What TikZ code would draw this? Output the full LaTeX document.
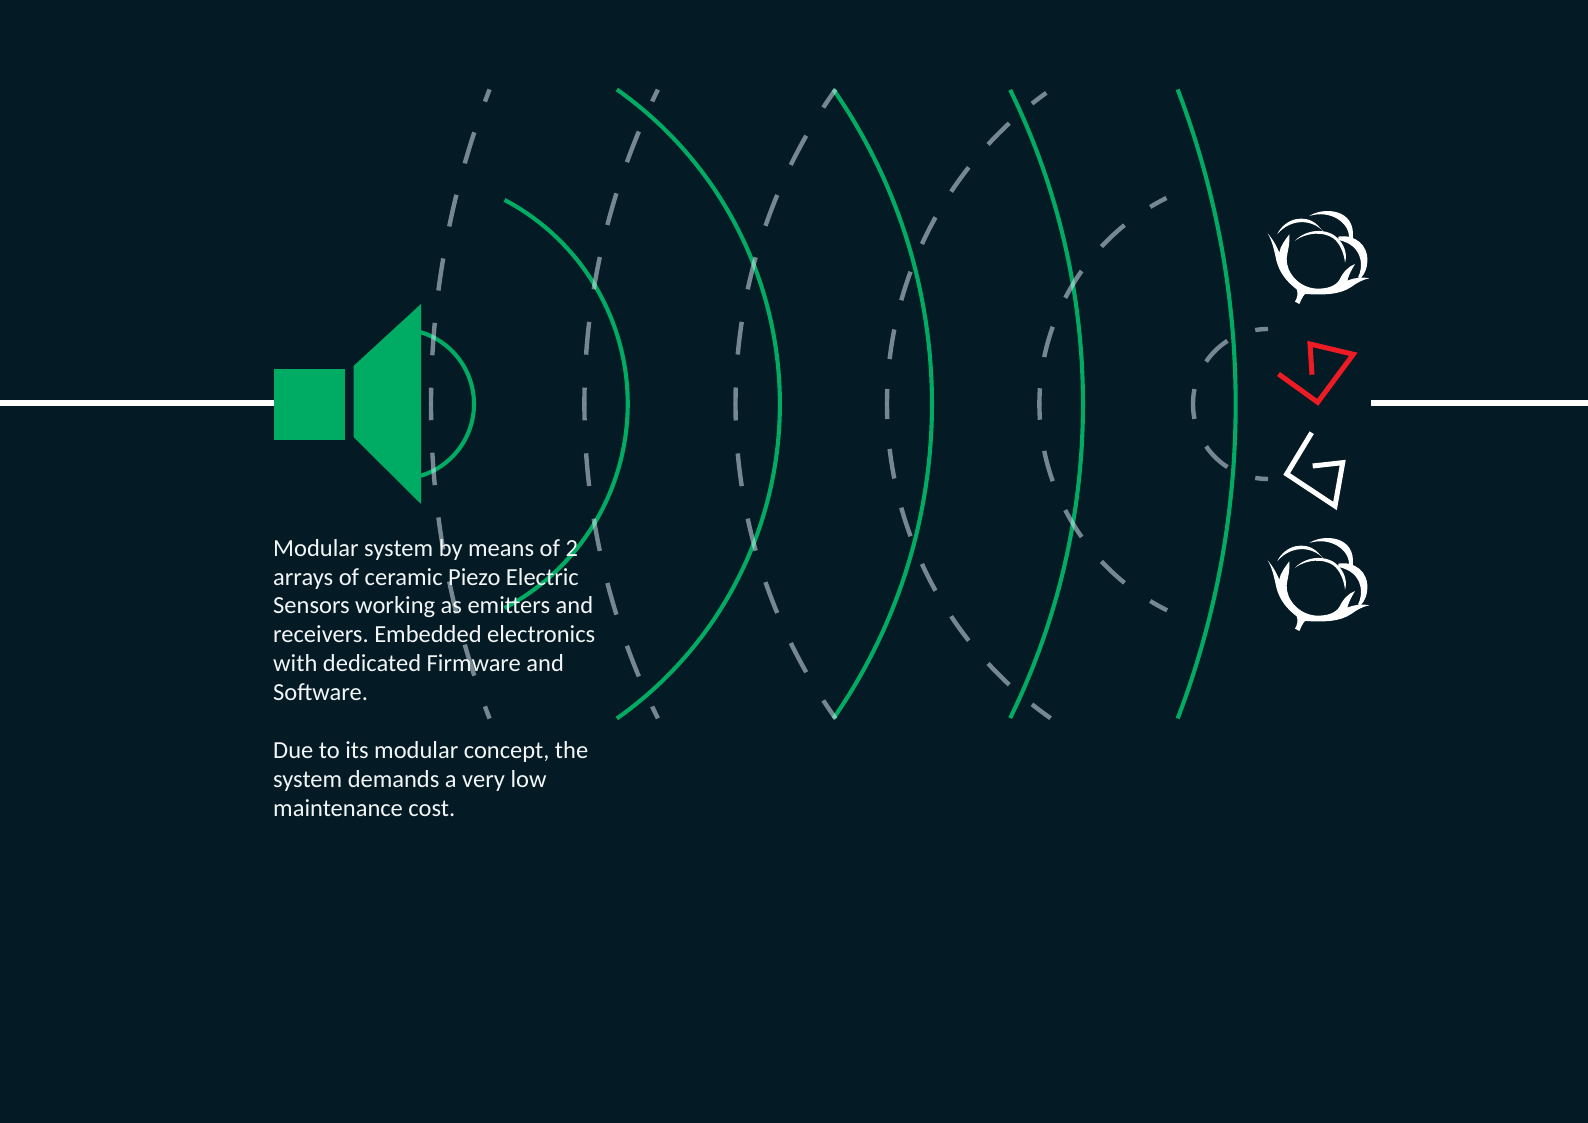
\documentclass[tikz,border=0pt]{standalone}
\usepackage{fontspec}
\setmainfont{Carlito}
\definecolor{bgc}{HTML}{041A24}
\definecolor{grn}{HTML}{00AB63}
\definecolor{redc}{HTML}{ED1C24}
\definecolor{ech}{HTML}{E6F4FF}
\definecolor{txtc}{HTML}{F2F6F7}
\newcommand{\cottonboll}[2]{%
\begin{scope}[shift={(#1,#2)},x=0.33333pt,y=-0.33333pt,fill=white]
\fill (83,130) .. controls (100,150) and (108,165) .. (118,188) .. controls (120,170) and (135,150) .. (148,133)
 .. controls (150,165) and (142,185) .. (140,205) .. controls (138,250) and (180,295) .. (232,296)
 .. controls (260,296) and (285,290) .. (298,270) .. controls (310,245) and (325,230) .. (345,222)
 .. controls (335,240) and (328,250) .. (322,272) .. controls (340,264) and (365,260) .. (388,265)
 .. controls (365,270) and (352,278) .. (335,290) .. controls (300,315) and (250,315) .. (195,312)
 .. controls (187,320) and (183,332) .. (178,342) -- (165,335) .. controls (172,322) and (175,312) .. (170,298)
 .. controls (140,275) and (120,250) .. (110,215) .. controls (103,185) and (98,155) .. (83,130) -- cycle;
\fill (112,132) .. controls (135,85) and (195,70) .. (232,105) -- (250,124) .. controls (215,88) and (155,84) .. (112,132) -- cycle;
\fill (208,78) .. controls (250,50) and (350,55) .. (338,148) -- (327,145) .. controls (330,98) and (270,58) .. (208,78) -- cycle;
\fill (165,152) .. controls (205,112) and (270,115) .. (298,150) .. controls (315,170) and (322,195) .. (315,218)
 .. controls (312,190) and (300,160) .. (280,145) .. controls (250,124) and (200,127) .. (165,152) -- cycle;
\fill (295,140) .. controls (345,132) and (385,165) .. (382,215) .. controls (381,235) and (375,250) .. (362,265)
 -- (354,262) .. controls (370,235) and (372,165) .. (295,150) -- cycle;
\end{scope}}
\tikzset{
 wave/.style={draw=grn,line width=4.1pt},
 echo/.style={draw=ech,draw opacity=.5,line width=4.4pt},
 wire/.style={draw=white,line width=5.5pt},
 tag/.style={line width=5pt,miter limit=10}
}
\begin{document}
\begin{tikzpicture}[x=1pt,y=1pt]
\useasboundingbox (0,0) rectangle (1588,1123);
\fill[bgc] (0,0) rectangle (1588,1123);
% wires
\coordinate (wl) at (0,720);
\coordinate (wr) at (1588,720);
\coordinate (spk) at (274,720);
\coordinate (wre) at (1371,720);
\draw[wire] (wl) -- (spk);
\draw[wire] (wre) -- (wr);
% speaker
\fill[grn] (274,683.3) rectangle (345,754);
\fill[grn] (353.5,686) -- (421,619) -- (421,819) -- (353.5,757) -- cycle;
% green waves
\foreach \cx/\r/\a in {399/75/73.7, 397/230.7/62.2, 395/384.9/54.8, 381/551/34.8, 369/714/26.1, 354/881.7/20.9}{
 \draw[wave] (\cx,719) ++(-\a:\r) arc (-\a:\a:\r);
}
% dashed echoes, each half drawn outwards from the axis
\foreach \cx/\r/\a/\b/\d in {1306/875/21.07/21.07/32.5, 1294/709.6/26.3/26.3/32.9, 1280/544.5/35.3/35.3/33, 1270.6/383.6/54.2/55/30, 1270/230.6/63.3/63.5/31.5, 1268/75/90/90/30}{
 \pgfmathsetmacro{\h}{\d/2}
 \draw[echo,dash pattern=on \d pt off \d pt,dash phase=\h pt] (\cx,719) ++(180:\r) arc (180:180-\a:\r);
 \draw[echo,dash pattern=on \d pt off \d pt,dash phase=\h pt] (\cx,719) ++(180:\r) arc (180:180+\b:\r);
}
% targets
\draw[tag,draw=redc] (1278.5,749) -- (1317.7,720.7) -- (1353.3,768.7) -- (1310,779) -- (1312,748.3);
\draw[tag,draw=white] (1311.7,690.3) -- (1286.7,649) -- (1335,617) -- (1342.7,660.3) -- (1312.7,657);
\cottonboll{1240}{933}
\cottonboll{1240}{606}
% text
\node[anchor=north west,inner sep=0pt,text=txtc,align=left,font=\fontsize{24.5}{28.9}\selectfont\frenchspacing] (txt) at (273,587)
 {\rule{0pt}{20pt}Modular system by means of 2\\
 arrays of ceramic Piezo Electric\\
 Sensors working as emitters and\\
 receivers. Embedded electronics\\
 with dedicated Firmware and\\
 Software.\\
 \\
 Due to its modular concept, the\\
 system demands a very low\\
 maintenance cost.};
\end{tikzpicture}
\end{document}
